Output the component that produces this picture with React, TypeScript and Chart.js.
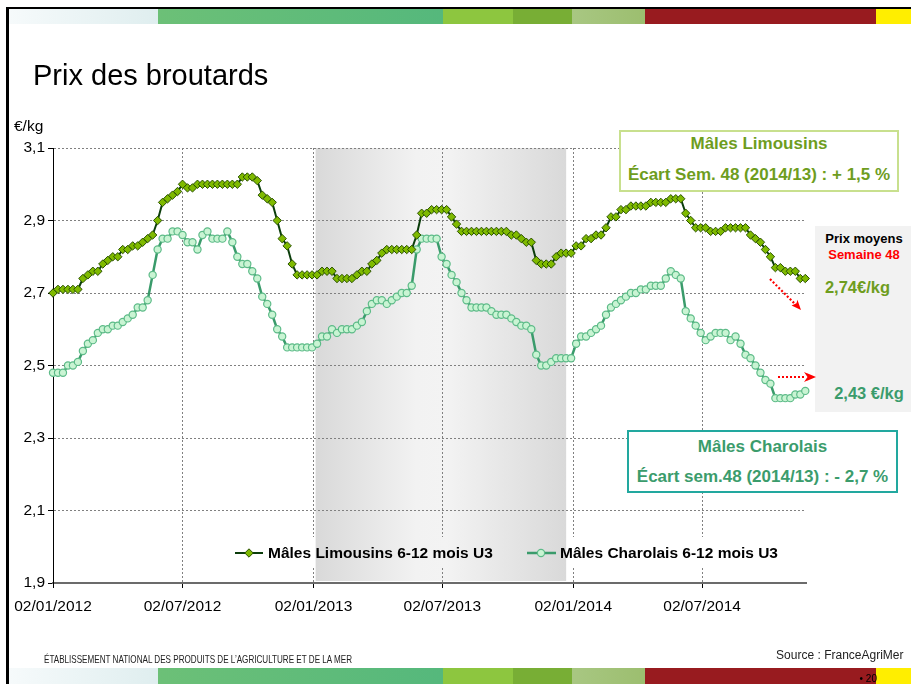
import React, { useEffect, useRef } from 'react';
import { Chart, registerables } from 'chart.js';

Chart.register(...registerables);

// ---- Data (weekly prices, week 1 2012 -> week 48 2014) ----
const limousins = [
  2.70, 2.71, 2.71, 2.71, 2.71, 2.71, 2.74, 2.75, 2.76, 2.76,
  2.78, 2.79, 2.80, 2.80, 2.82, 2.82, 2.83, 2.83, 2.84, 2.85,
  2.86, 2.90, 2.95, 2.96, 2.97, 2.98, 3.00, 2.99, 2.99, 3.00,
  3.00, 3.00, 3.00, 3.00, 3.00, 3.00, 3.00, 3.00, 3.02, 3.02,
  3.02, 3.01, 2.97, 2.96, 2.95, 2.90, 2.85, 2.83, 2.78, 2.75,
  2.75, 2.75, 2.75, 2.75, 2.76, 2.76, 2.76, 2.74, 2.74, 2.74,
  2.74, 2.75, 2.76, 2.76, 2.78, 2.79, 2.81, 2.82, 2.82, 2.82,
  2.82, 2.82, 2.82, 2.86, 2.92, 2.92, 2.93, 2.93, 2.93, 2.93,
  2.91, 2.89, 2.87, 2.87, 2.87, 2.87, 2.87, 2.87, 2.87, 2.87,
  2.87, 2.87, 2.86, 2.86, 2.85, 2.84, 2.84, 2.79, 2.78, 2.78,
  2.78, 2.80, 2.81, 2.81, 2.81, 2.83, 2.83, 2.85, 2.85, 2.86,
  2.86, 2.88, 2.91, 2.91, 2.93, 2.93, 2.94, 2.94, 2.94, 2.94,
  2.95, 2.95, 2.95, 2.95, 2.96, 2.96, 2.96, 2.92, 2.90, 2.88,
  2.88, 2.88, 2.87, 2.87, 2.87, 2.88, 2.88, 2.88, 2.88, 2.88,
  2.86, 2.85, 2.84, 2.82, 2.80, 2.77, 2.77, 2.76, 2.76, 2.76,
  2.74, 2.74,
];

const charolais = [
  2.48, 2.48, 2.48, 2.50, 2.50, 2.51, 2.54, 2.56, 2.57, 2.59,
  2.60, 2.60, 2.61, 2.61, 2.62, 2.63, 2.64, 2.66, 2.66, 2.68,
  2.75, 2.82, 2.85, 2.85, 2.87, 2.87, 2.86, 2.84, 2.84, 2.82,
  2.86, 2.87, 2.85, 2.85, 2.85, 2.87, 2.84, 2.80, 2.78, 2.78,
  2.76, 2.74, 2.69, 2.67, 2.64, 2.60, 2.58, 2.55, 2.55, 2.55,
  2.55, 2.55, 2.55, 2.56, 2.58, 2.58, 2.60, 2.59, 2.60, 2.60,
  2.60, 2.61, 2.62, 2.65, 2.67, 2.68, 2.68, 2.67, 2.68, 2.69,
  2.70, 2.70, 2.72, 2.82, 2.85, 2.85, 2.85, 2.85, 2.80, 2.78,
  2.75, 2.73, 2.70, 2.68, 2.66, 2.66, 2.66, 2.66, 2.65, 2.64,
  2.64, 2.64, 2.63, 2.62, 2.61, 2.61, 2.60, 2.53, 2.50, 2.50,
  2.51, 2.52, 2.52, 2.52, 2.52, 2.56, 2.58, 2.58, 2.59, 2.60,
  2.61, 2.64, 2.66, 2.67, 2.68, 2.69, 2.70, 2.70, 2.71, 2.71,
  2.72, 2.72, 2.72, 2.74, 2.76, 2.75, 2.74, 2.65, 2.63, 2.61,
  2.59, 2.57, 2.58, 2.59, 2.59, 2.59, 2.57, 2.58, 2.56, 2.53,
  2.52, 2.50, 2.48, 2.46, 2.45, 2.41, 2.41, 2.41, 2.41, 2.42,
  2.42, 2.43,
];

const seriesNames = ['Mâles Limousins 6-12 mois U3', 'Mâles Charolais 6-12 mois U3'];
const xTickDays = [0, 182, 366, 547, 731, 912];
const xTickLabels = ['02/01/2012', '02/07/2012', '02/01/2013', '02/07/2013', '02/01/2014', '02/07/2014'];
const yTicks = [1.9, 2.1, 2.3, 2.5, 2.7, 2.9, 3.1];
const xMaxDay = 1058;
const bandDays = [369, 721];

const FONT = "'Liberation Sans', Arial, Helvetica, sans-serif";
const LIM_TEXT = '#6e9d1e';
const CHA_TEXT = '#3b9c6c';
const LIM_LINE = '#0b3d0b';
const LIM_FILL = '#7fba00';
const LIM_EDGE = '#2a5200';
const CHA_LINE = '#3a9b6b';
const CHA_FILL = '#c9f4d3';
const CHA_EDGE = '#5dbb88';

const bandSegs = [
  { left: 9, width: 149, bg: 'linear-gradient(to right, #f6fafb, #dfeeef)' },
  { left: 158, width: 285, bg: 'linear-gradient(to right, #6cc077, #55b87c)' },
  { left: 443, width: 70, bg: '#8dc63f' },
  { left: 513, width: 59, bg: '#78ae35' },
  { left: 572, width: 73, bg: 'linear-gradient(to right, #a8c782, #9cbe6f)' },
  { left: 645, width: 231, bg: '#981b1f' },
  { left: 876, width: 35, bg: '#ffee00' },
];

function fillBand(ctx: CanvasRenderingContext2D, x0: number, x1: number, y0: number, y1: number) {
  const g = ctx.createLinearGradient(x0, 0, x1, 0);
  g.addColorStop(0, '#d9d9d9');
  g.addColorStop(0.4, '#f2f2f2');
  g.addColorStop(0.52, '#f3f3f3');
  g.addColorStop(1, '#d9d9d9');
  ctx.fillStyle = g;
  ctx.fillRect(x0, y0, x1 - x0, y1 - y0);
}

export default function App() {
  const canvasRef = useRef<HTMLCanvasElement>(null);

  useEffect(() => {
    const canvas = canvasRef.current;
    if (!canvas) return;
    const toPts = (arr: number[]) => arr.map((v, i) => ({ x: i * 7, y: v }));

    const bandPlugin = {
      id: 'greyBand',
      beforeDraw(chart: any) {
        const { ctx, chartArea, scales } = chart;
        const x0 = scales.x.getPixelForValue(bandDays[0]);
        const x1 = scales.x.getPixelForValue(bandDays[1]);
        ctx.save();
        fillBand(ctx, x0, x1, chartArea.top, chartArea.bottom - 2);
        ctx.restore();
      },
    };

    const legendPlugin = {
      id: 'innerLegend',
      afterDraw(chart: any) {
        const { ctx, chartArea, scales } = chart;
        const lx0 = 225, lx1 = 790, ly0 = 537, ly1 = 568;
        ctx.save();
        ctx.fillStyle = '#ffffff';
        ctx.fillRect(lx0, ly0, lx1 - lx0, ly1 - ly0);
        const bx0 = scales.x.getPixelForValue(bandDays[0]);
        const bx1 = scales.x.getPixelForValue(bandDays[1]);
        ctx.beginPath();
        ctx.rect(lx0, ly0, lx1 - lx0, ly1 - ly0);
        ctx.clip();
        fillBand(ctx, bx0, bx1, chartArea.top, chartArea.bottom - 2);
        ctx.restore();

        ctx.save();
        const cy = 553;
        // Limousins
        ctx.strokeStyle = LIM_LINE;
        ctx.lineWidth = 2;
        ctx.beginPath();
        ctx.moveTo(235, cy);
        ctx.lineTo(263, cy);
        ctx.stroke();
        const r = 4.2;
        ctx.beginPath();
        ctx.moveTo(249, cy - r);
        ctx.lineTo(249 + r, cy);
        ctx.lineTo(249, cy + r);
        ctx.lineTo(249 - r, cy);
        ctx.closePath();
        ctx.fillStyle = LIM_FILL;
        ctx.fill();
        ctx.lineWidth = 1;
        ctx.strokeStyle = LIM_EDGE;
        ctx.stroke();
        // Charolais
        ctx.strokeStyle = CHA_LINE;
        ctx.lineWidth = 2.5;
        ctx.beginPath();
        ctx.moveTo(527, cy);
        ctx.lineTo(556, cy);
        ctx.stroke();
        ctx.beginPath();
        ctx.arc(541, cy, 3.6, 0, Math.PI * 2);
        ctx.fillStyle = CHA_FILL;
        ctx.fill();
        ctx.lineWidth = 1.2;
        ctx.strokeStyle = CHA_EDGE;
        ctx.stroke();

        ctx.fillStyle = '#000';
        ctx.font = `bold 15.5px ${FONT}`;
        ctx.textBaseline = 'middle';
        ctx.textAlign = 'left';
        ctx.fillText(seriesNames[0], 268, cy + 0.5);
        ctx.fillText(seriesNames[1], 560, cy + 0.5);
        ctx.restore();
      },
    };

    const tickFont = { family: FONT, size: 15.5 };

    const chart = new Chart(canvas, {
      type: 'line',
      data: {
        datasets: [
          {
            label: seriesNames[0],
            data: toPts(limousins),
            borderColor: LIM_LINE,
            borderWidth: 2,
            pointStyle: 'rectRot',
            pointRadius: 4.2,
            pointBackgroundColor: LIM_FILL,
            pointBorderColor: LIM_EDGE,
            pointBorderWidth: 1,
            tension: 0,
            clip: false,
          } as any,
          {
            label: seriesNames[1],
            data: toPts(charolais),
            borderColor: CHA_LINE,
            borderWidth: 2.5,
            pointStyle: 'circle',
            pointRadius: 3.6,
            pointBackgroundColor: CHA_FILL,
            pointBorderColor: CHA_EDGE,
            pointBorderWidth: 1.2,
            tension: 0,
            clip: false,
          } as any,
        ],
      },
      options: {
        animation: false,
        responsive: false,
        devicePixelRatio: 1,
        events: [],
        layout: { padding: { left: 0, top: 148, right: 105, bottom: 0 } },
        plugins: {
          legend: { display: false },
          tooltip: { enabled: false },
        },
        scales: {
          x: {
            type: 'linear',
            min: 0,
            max: xMaxDay,
            afterFit: (s: any) => { s.height = 101; },
            afterBuildTicks: (s: any) => { s.ticks = xTickDays.map((v) => ({ value: v })); },
            ticks: {
              autoSkip: false,
              maxRotation: 0,
              minRotation: 0,
              padding: 9,
              color: '#000',
              font: tickFont,
              callback: (_v: any, i: number) => xTickLabels[i],
            },
            grid: { color: '#808080', lineWidth: 1, tickLength: 5, tickColor: '#000', tickWidth: 1 },
            border: { display: true, color: '#6b6b6b', width: 2, dash: [2, 2] },
          },
          y: {
            type: 'linear',
            min: 1.9,
            max: 3.1,
            afterFit: (s: any) => { s.width = 53; },
            afterBuildTicks: (s: any) => { s.ticks = yTicks.map((v) => ({ value: v })); },
            ticks: {
              padding: 3,
              color: '#000',
              font: tickFont,
              callback: (v: any) => Number(v).toFixed(1).replace('.', ','),
            },
            grid: { color: '#808080', lineWidth: 1, tickLength: 5, tickColor: '#000', tickWidth: 1 },
            border: { display: true, color: '#000', width: 1, dash: [2, 2] },
          },
        },
      } as any,
      plugins: [bandPlugin, legendPlugin],
    });

    return () => chart.destroy();
  }, []);

  const abs = (s: React.CSSProperties): React.CSSProperties => ({ position: 'absolute', ...s });

  return (
    <div style={{ position: 'relative', width: 911, height: 684, overflow: 'hidden', background: '#fff', fontFamily: FONT }}>
      <style>{'html,body{margin:0;padding:0;background:#fff}'}</style>
      <canvas ref={canvasRef} width={911} height={684} style={abs({ left: 0, top: 0, width: 911, height: 684 })} />

      {/* frame */}
      <div style={abs({ left: 6, top: 7, width: 905, height: 2, background: '#000' })} />
      <div style={abs({ left: 6, top: 7, width: 3, height: 677, background: '#000' })} />

      {/* colour bands */}
      {bandSegs.map((s, i) => (
        <div key={'t' + i} style={abs({ left: s.left, top: 9, width: s.width, height: 15, background: s.bg })} />
      ))}
      {bandSegs.map((s, i) => (
        <div key={'b' + i} style={abs({ left: s.left, top: 668, width: s.width, height: 16, background: s.bg })} />
      ))}

      {/* title */}
      <div style={abs({ left: 33, top: 60, fontSize: 29, lineHeight: '30px', color: '#000', whiteSpace: 'nowrap' })}>Prix des broutards</div>
      <div style={abs({ left: 14, top: 117, fontSize: 15.5, lineHeight: '18px', color: '#000' })}>€/kg</div>

      {/* Limousins box */}
      <div style={abs({ left: 619, top: 130, width: 280, height: 62, border: '2px solid #c8e08e', background: '#fff', boxSizing: 'border-box' })} />
      <div style={abs({ left: 619, top: 134, width: 280, textAlign: 'center', fontSize: 17, fontWeight: 'bold', lineHeight: '20px', color: LIM_TEXT, whiteSpace: 'nowrap' })}>Mâles Limousins</div>
      <div style={abs({ left: 619, top: 165, width: 280, textAlign: 'center', fontSize: 17, fontWeight: 'bold', lineHeight: '20px', color: LIM_TEXT, whiteSpace: 'nowrap' })}>Écart Sem. 48 (2014/13) : + 1,5 %</div>

      {/* Charolais box */}
      <div style={abs({ left: 627, top: 430, width: 271, height: 63, border: '2px solid #22a89f', background: '#fff', boxSizing: 'border-box' })} />
      <div style={abs({ left: 627, top: 437, width: 271, textAlign: 'center', fontSize: 17, fontWeight: 'bold', lineHeight: '20px', color: CHA_TEXT, whiteSpace: 'nowrap' })}>Mâles Charolais</div>
      <div style={abs({ left: 627, top: 467, width: 271, textAlign: 'center', fontSize: 17, fontWeight: 'bold', lineHeight: '20px', color: CHA_TEXT, whiteSpace: 'nowrap' })}>Écart sem.48 (2014/13) : - 2,7 %</div>

      {/* Prix moyens panel */}
      <div style={abs({ left: 815, top: 226, width: 96, height: 186, background: '#f2f2f2' })} />
      <div style={abs({ left: 815, top: 231, width: 98, textAlign: 'center', fontSize: 13, fontWeight: 'bold', lineHeight: '16px', color: '#000', whiteSpace: 'nowrap' })}>Prix moyens</div>
      <div style={abs({ left: 815, top: 247, width: 98, textAlign: 'center', fontSize: 13, fontWeight: 'bold', lineHeight: '16px', color: '#ff0000', whiteSpace: 'nowrap' })}>Semaine 48</div>
      <div style={abs({ left: 815, top: 276.5, width: 85, textAlign: 'center', fontSize: 16.5, fontWeight: 'bold', lineHeight: '20px', color: LIM_TEXT, whiteSpace: 'nowrap' })}>2,74€/kg</div>
      <div style={abs({ left: 827, top: 383, width: 84, textAlign: 'center', fontSize: 16.5, fontWeight: 'bold', lineHeight: '20px', color: CHA_TEXT, whiteSpace: 'nowrap' })}>2,43 €/kg</div>

      {/* arrows + footer */}
      <svg width={911} height={684} style={abs({ left: 0, top: 0, pointerEvents: 'none' })}>
        <line x1={770} y1={279} x2={795} y2={304} stroke="#ff0000" strokeWidth={2.2} strokeDasharray="2 2" />
        <polygon points="801,310 791.6,305.6 796.5,303.3 797.4,299.8" fill="#ff0000" />
        <line x1={778} y1={377} x2={806} y2={377} stroke="#ff0000" strokeWidth={2.2} strokeDasharray="2 2" />
        <polygon points="816,377 804,372 807.5,377 804,382" fill="#ff0000" />
        <text x={44} y={663} fontFamily={FONT} fontSize={11.5} fill="#222" textLength={308} lengthAdjust="spacingAndGlyphs">ÉTABLISSEMENT NATIONAL DES PRODUITS DE L’AGRICULTURE ET DE LA MER</text>
      </svg>

      <div style={abs({ left: 700, top: 648, width: 203.5, textAlign: 'right', fontSize: 12, lineHeight: '14px', color: '#222', whiteSpace: 'nowrap' })}>Source : FranceAgriMer</div>
      <div style={abs({ left: 840, top: 672.5, width: 37, textAlign: 'right', fontSize: 10, lineHeight: '12px', color: '#000', whiteSpace: 'nowrap' })}>• 20</div>
    </div>
  );
}
